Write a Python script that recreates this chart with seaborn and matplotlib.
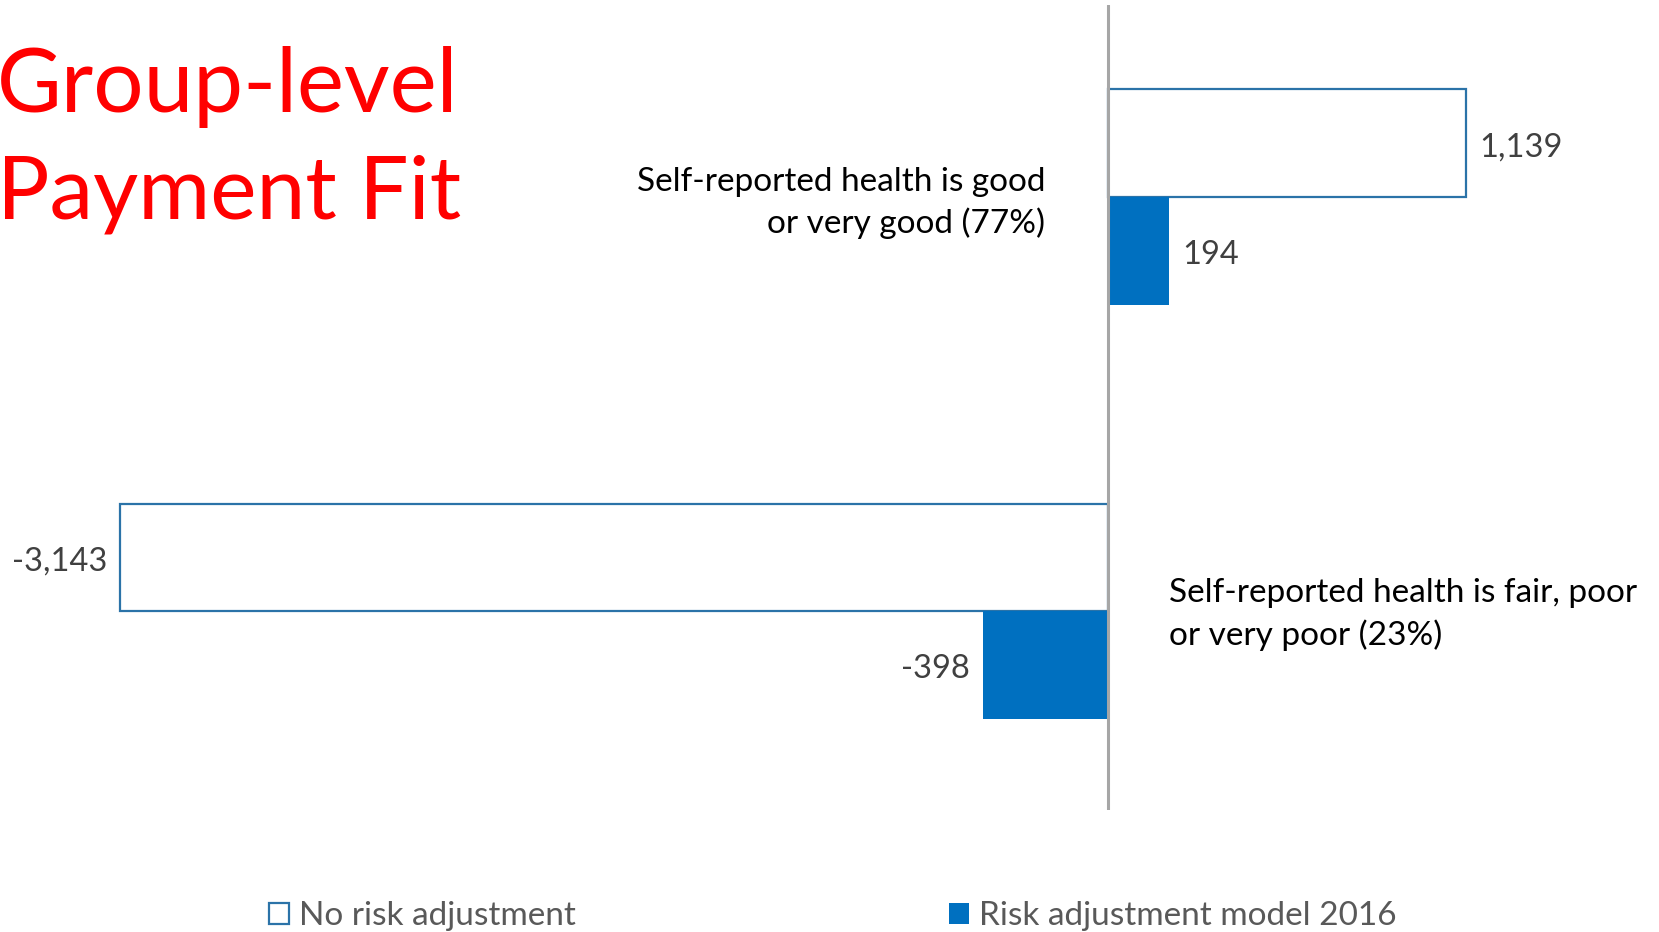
import matplotlib
matplotlib.use("Agg")
import matplotlib.pyplot as plt
from matplotlib.patches import Patch
import seaborn as sns
import pandas as pd

# Chart data
categories = [
    "Self-reported health is good\nor very good (77%)",
    "Self-reported health is fair, poor\nor very poor (23%)",
]
series_names = ["No risk adjustment", "Risk adjustment model 2016"]
no_adjustment = [1139, -3143]
model_2016 = [194, -398]

df = pd.DataFrame({
    "category": categories * 2,
    "series": [series_names[0]] * 2 + [series_names[1]] * 2,
    "value": no_adjustment + model_2016,
})

sns.set_theme(style="white")
plt.rcParams["font.family"] = ["Lato", "DejaVu Sans"]

BLUE = "#0070C0"
EDGE = "#2B73A8"

fig = plt.figure(figsize=(16.59, 9.32), dpi=100)
ax = fig.add_axes([0.0, 0.131, 1.0, 0.8636])

sns.barplot(
    data=df, y="category", x="value", hue="series", orient="h",
    hue_order=series_names, palette=["white", BLUE], width=0.52,
    saturation=1, legend=False, ax=ax,
)

# Outline-only bars for the unadjusted series
for bar in ax.containers[0]:
    bar.set_facecolor("white")
    bar.set_edgecolor(EDGE)
    bar.set_linewidth(1.6)
for bar in ax.containers[1]:
    bar.set_edgecolor("none")

# Value labels at the bar ends, nudged slightly down to sit on the bar centre
for cont in ax.containers:
    labels = ax.bar_label(cont, fmt="{:,.0f}", padding=9.5, fontsize=23.5,
                          color="#404040")
    for t in labels:
        x_off, y_off = t.xyann
        t.xyann = (x_off, y_off - 3)

ax.set_xlim(-3525, 1753)
ax.set_ylim(1.48, -0.464)
ax.axvline(0, color="#A6A6A6", lw=2.2, zorder=5)

for s in ax.spines.values():
    s.set_visible(False)
ax.set_xticks([])
ax.set_yticks([])
ax.set_xlabel("")
ax.set_ylabel("")

# Category labels beside the zero line
ax.annotate(categories[0], xy=(0, 0), xytext=(-45, -4), textcoords="offset points",
            ha="right", va="center", fontsize=24, color="black",
            linespacing=1.42)
ax.annotate(categories[1], xy=(0, 1), xytext=(44, -2.3), textcoords="offset points",
            ha="left", va="center", fontsize=24, color="black",
            linespacing=1.42)

# Title
fig.text(-0.002, 1 - 112 / 932, "Group-level", color="#FF0000", fontsize=64,
         ha="left", va="baseline")
fig.text(-0.002, 1 - 218 / 932, "Payment Fit", color="#FF0000", fontsize=63,
         ha="left", va="baseline")

# Legend
handles = [
    Patch(facecolor="white", edgecolor=EDGE, linewidth=1.6),
    Patch(facecolor=BLUE, edgecolor="none"),
]
fig.legend(handles, series_names, loc="center left",
           bbox_to_anchor=(269 / 1659, 1 - 916 / 932), ncol=2, frameon=False,
           fontsize=24, labelcolor="#595959", handlelength=0.6,
           handleheight=0.6, handletextpad=0.3, columnspacing=11.2,
           borderpad=0, borderaxespad=0)

fig.savefig("out.png", dpi=100, facecolor="white")
